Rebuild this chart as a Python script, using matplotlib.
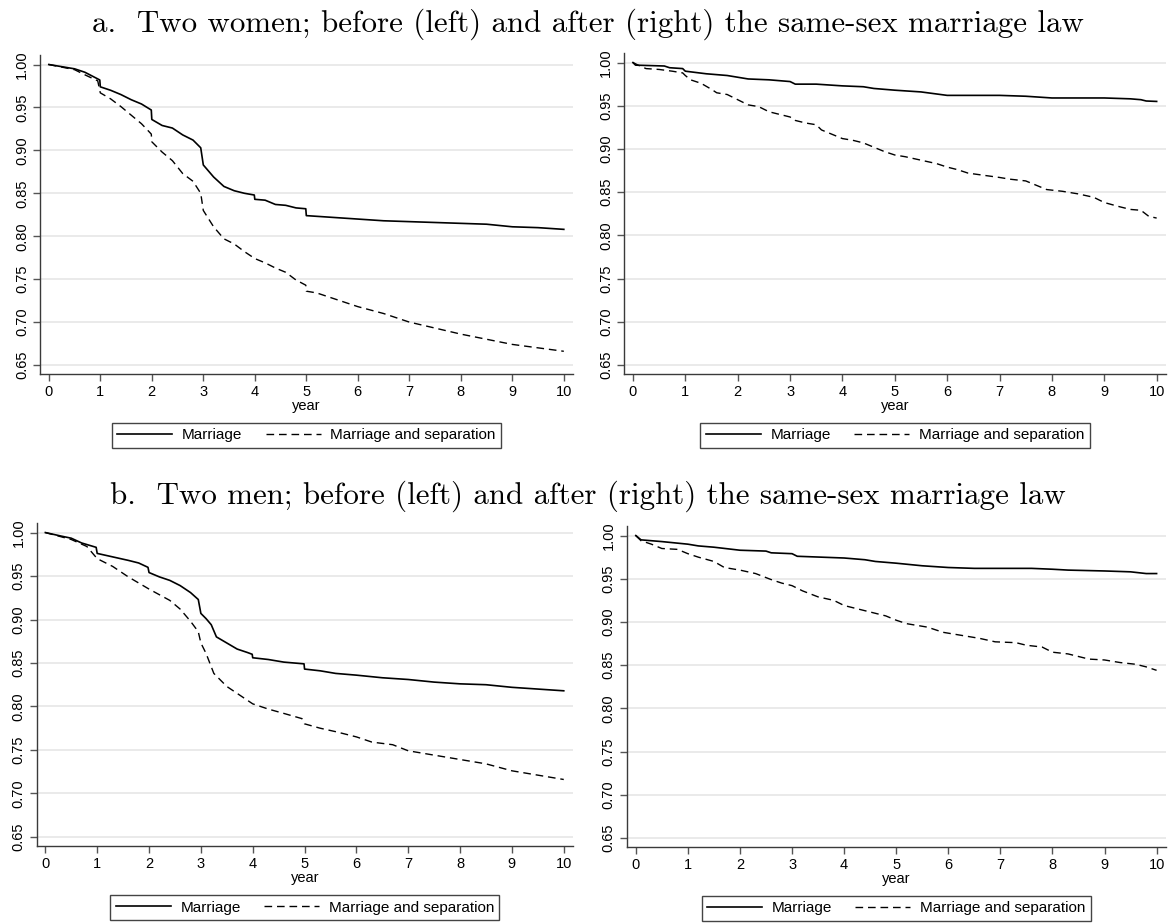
"""Survival curves to marriage / marriage and separation, same-sex couples."""

import matplotlib

matplotlib.use("Agg")
import matplotlib.pyplot as plt

# ---- data --------------------------------------------------------------
# a. two women, before the law
women_before_marr_x = [0, 0.5, 0.7, 0.99, 1.0, 1.2, 1.4, 1.6, 1.8, 1.99, 2.0, 2.2, 2.4,
                       2.6, 2.8, 2.95, 3.0, 3.2, 3.4, 3.6, 3.8, 3.99, 4.0, 4.2, 4.4,
                       4.6, 4.8, 4.99, 5.0, 5.5, 6, 6.5, 7, 7.5, 8, 8.5, 9, 9.5, 10]
women_before_marr_y = [1.0, 0.995, 0.991, 0.982, 0.974, 0.970, 0.965, 0.959, 0.954,
                       0.947, 0.936, 0.929, 0.926, 0.918, 0.912, 0.903, 0.883, 0.869,
                       0.858, 0.853, 0.850, 0.848, 0.843, 0.842, 0.837, 0.836, 0.833,
                       0.832, 0.824, 0.822, 0.820, 0.818, 0.817, 0.816, 0.815, 0.814,
                       0.811, 0.810, 0.808]
women_before_sep_x = [0, 0.5, 0.7, 0.95, 1.0, 1.2, 1.4, 1.6, 1.8, 1.99, 2.0, 2.2, 2.4,
                      2.6, 2.8, 2.95, 3.0, 3.2, 3.4, 3.6, 3.8, 4.0, 4.2, 4.4, 4.6, 4.8,
                      4.99, 5.0, 5.2, 5.5, 6, 6.5, 7, 7.5, 8, 8.5, 9, 9.5, 10]
women_before_sep_y = [1.0, 0.994, 0.988, 0.981, 0.967, 0.960, 0.951, 0.941, 0.931,
                      0.919, 0.910, 0.898, 0.888, 0.873, 0.864, 0.850, 0.830, 0.811,
                      0.797, 0.791, 0.782, 0.774, 0.769, 0.763, 0.758, 0.749, 0.743,
                      0.736, 0.734, 0.728, 0.718, 0.710, 0.700, 0.693, 0.686, 0.680,
                      0.674, 0.670, 0.666]

# a. two women, after the law
women_after_marr_x = [0, 0.05, 0.6, 0.7, 0.95, 1.0, 1.4, 1.8, 2.0, 2.2, 2.6, 3.0, 3.1,
                      3.5, 4.0, 4.4, 4.6, 5.0, 5.5, 6.0, 7.0, 7.5, 8.0, 9.0, 9.5, 9.7,
                      9.8, 10]
women_after_marr_y = [1.0, 0.997, 0.996, 0.994, 0.993, 0.990, 0.987, 0.985, 0.983,
                      0.981, 0.980, 0.978, 0.975, 0.975, 0.973, 0.972, 0.970, 0.968,
                      0.966, 0.962, 0.962, 0.961, 0.959, 0.959, 0.958, 0.957, 0.9555,
                      0.955]
women_after_sep_x = [0, 0.1, 0.25, 0.5, 0.75, 0.95, 1.0, 1.1, 1.3, 1.5, 1.6, 1.8, 2.0,
                     2.2, 2.4, 2.6, 2.8, 3.0, 3.1, 3.3, 3.5, 3.6, 3.8, 4.0, 4.2, 4.4,
                     4.6, 4.8, 5.0, 5.2, 5.5, 5.8, 6.0, 6.2, 6.4, 7.0, 7.2, 7.5, 7.7,
                     7.9, 8.2, 8.5, 8.8, 9.0, 9.3, 9.5, 9.7, 9.85, 10]
women_after_sep_y = [1.0, 0.997, 0.993, 0.992, 0.990, 0.988, 0.985, 0.980, 0.976,
                     0.969, 0.965, 0.963, 0.957, 0.951, 0.949, 0.943, 0.940, 0.937,
                     0.933, 0.930, 0.928, 0.922, 0.917, 0.912, 0.910, 0.907, 0.902,
                     0.897, 0.893, 0.891, 0.887, 0.883, 0.879, 0.876, 0.872, 0.867,
                     0.865, 0.863, 0.858, 0.853, 0.851, 0.848, 0.844, 0.838, 0.833,
                     0.830, 0.829, 0.822, 0.820]

# b. two men, before the law
men_before_marr_x = [0, 0.3, 0.5, 0.7, 0.98, 1.0, 1.3, 1.6, 1.8, 1.98, 2.0, 2.2, 2.4,
                     2.6, 2.8, 2.95, 3.0, 3.1, 3.2, 3.3, 3.5, 3.7, 3.9, 3.99, 4.0, 4.3,
                     4.6, 4.99, 5.0, 5.3, 5.6, 6.0, 6.5, 7.0, 7.5, 8.0, 8.5, 9.0, 9.5,
                     10]
men_before_marr_y = [1.0, 0.996, 0.9935, 0.988, 0.983, 0.976, 0.972, 0.968, 0.965,
                     0.960, 0.954, 0.949, 0.945, 0.939, 0.931, 0.923, 0.907, 0.901,
                     0.894, 0.880, 0.873, 0.866, 0.862, 0.860, 0.856, 0.854, 0.851,
                     0.849, 0.843, 0.841, 0.838, 0.836, 0.833, 0.831, 0.828, 0.826,
                     0.825, 0.822, 0.820, 0.818]
men_before_sep_x = [0, 0.5, 0.8, 1.0, 1.3, 1.6, 2.0, 2.4, 2.6, 2.8, 2.95, 3.0, 3.1,
                    3.25, 3.5, 3.8, 4.0, 4.3, 4.6, 4.95, 5.0, 5.3, 5.6, 6.0, 6.3, 6.7,
                    7.0, 7.5, 8.0, 8.5, 9.0, 9.5, 10]
men_before_sep_y = [1.0, 0.992, 0.984, 0.970, 0.961, 0.949, 0.935, 0.922, 0.912,
                    0.898, 0.886, 0.873, 0.861, 0.838, 0.823, 0.811, 0.803, 0.797,
                    0.792, 0.786, 0.780, 0.775, 0.771, 0.765, 0.759, 0.756, 0.749,
                    0.744, 0.739, 0.734, 0.726, 0.721, 0.716]

# b. two men, after the law
men_after_marr_x = [0, 0.1, 0.5, 1.0, 1.2, 1.5, 2.0, 2.5, 2.6, 3.0, 3.1, 4.0, 4.4,
                    4.6, 5.0, 5.5, 6.0, 6.5, 7.6, 8.0, 8.3, 9.0, 9.5, 9.8, 10]
men_after_marr_y = [1.0, 0.995, 0.993, 0.990, 0.988, 0.9865, 0.983, 0.982, 0.980,
                    0.979, 0.976, 0.974, 0.972, 0.970, 0.968, 0.965, 0.963, 0.962,
                    0.962, 0.961, 0.960, 0.959, 0.958, 0.956, 0.956]
men_after_sep_x = [0, 0.1, 0.3, 0.5, 0.8, 1.0, 1.2, 1.5, 1.7, 2.0, 2.3, 2.6, 2.8,
                   3.0, 3.2, 3.5, 3.8, 4.0, 4.4, 4.8, 5.0, 5.2, 5.6, 5.9, 6.2, 6.6,
                   6.9, 7.3, 7.5, 7.8, 8.0, 8.3, 8.7, 9.0, 9.3, 9.6, 9.8, 10]
men_after_sep_y = [1.0, 0.994, 0.990, 0.985, 0.984, 0.979, 0.975, 0.970, 0.963,
                   0.960, 0.956, 0.949, 0.945, 0.942, 0.936, 0.929, 0.925, 0.919,
                   0.913, 0.907, 0.902, 0.898, 0.894, 0.888, 0.885, 0.881, 0.877,
                   0.876, 0.873, 0.871, 0.865, 0.863, 0.857, 0.856, 0.853, 0.851,
                   0.848, 0.844]

x_ticks = list(range(0, 11))
y_ticks = [0.65, 0.70, 0.75, 0.80, 0.85, 0.90, 0.95, 1.00]
legend_labels = ["Marriage", "Marriage and separation"]
row_titles = [
    "a.  Two women; before (left) and after (right) the same-sex marriage law",
    "b.  Two men; before (left) and after (right) the same-sex marriage law",
]

panels = [
    (women_before_marr_x, women_before_marr_y, women_before_sep_x, women_before_sep_y),
    (women_after_marr_x, women_after_marr_y, women_after_sep_x, women_after_sep_y),
    (men_before_marr_x, men_before_marr_y, men_before_sep_x, men_before_sep_y),
    (men_after_marr_x, men_after_marr_y, men_after_sep_x, men_after_sep_y),
]

# axes rectangles in figure fractions (left, bottom, width, height)
rects = [
    (0.0342, 0.5952, 0.4552, 0.3452),
    (0.5329, 0.5952, 0.4629, 0.3474),
    (0.0312, 0.0844, 0.4582, 0.3496),
    (0.5354, 0.0833, 0.4603, 0.3474),
]

plt.rcParams["font.family"] = ["Liberation Sans", "DejaVu Sans"]

fig = plt.figure(figsize=(11.71, 9.24), dpi=100)
spine_color = "#3a3a3a"

for (mx, my, sx, sy), rect in zip(panels, rects):
    ax = fig.add_axes(rect)
    ax.plot(mx, my, color="black", lw=1.2, label=legend_labels[0])
    ax.plot(sx, sy, color="black", lw=1.0, linestyle=(0, (5.5, 3.5)),
            label=legend_labels[1])
    ax.set_xlim(-0.17, 10.18)
    ax.set_ylim(0.6395, 1.011)
    ax.set_xticks(x_ticks)
    ax.set_yticks(y_ticks)
    ax.set_yticklabels([f"{v:.2f}" for v in y_ticks], rotation=90, va="center")
    ax.tick_params(axis="both", direction="out", length=5, width=1,
                   color="#555555", labelsize=10.5, pad=3)
    ax.yaxis.grid(True, color="#e6e6e6", lw=1.2)
    ax.set_axisbelow(True)
    for side in ("top", "right"):
        ax.spines[side].set_visible(False)
    for side in ("left", "bottom"):
        ax.spines[side].set_color(spine_color)
        ax.spines[side].set_linewidth(1.0)
    ax.set_xlabel("year", fontsize=10.5, labelpad=0)
    leg = ax.legend(loc="upper center", bbox_to_anchor=(0.5, -0.153), ncol=2,
                    fontsize=11, frameon=True, fancybox=False, framealpha=1,
                    handlelength=3.6, handletextpad=0.65, columnspacing=1.5,
                    borderpad=0.35, borderaxespad=0)
    leg.get_frame().set_edgecolor("#444444")
    leg.get_frame().set_linewidth(1.0)

fig.text(0.502, 0.974, row_titles[0], ha="center", va="center",
         fontsize=22.3, family="cmr10")
fig.text(0.502, 0.463, row_titles[1], ha="center", va="center",
         fontsize=22.3, family="cmr10")

fig.savefig("out.png", dpi=100)
